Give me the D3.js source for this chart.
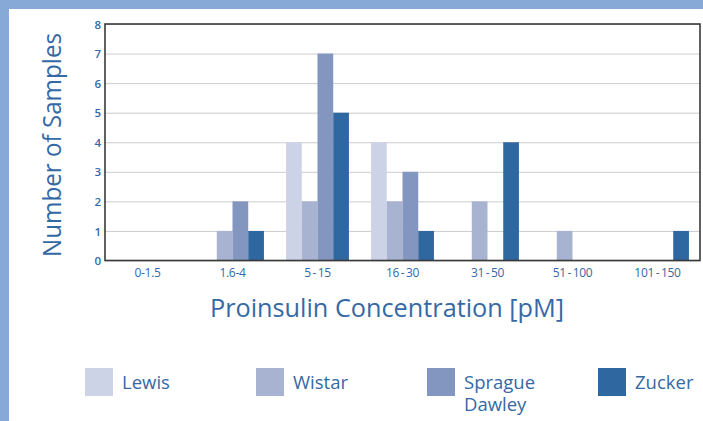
<!DOCTYPE html>
<html>
<head>
<meta charset="utf-8">
<script src="https://cdn.jsdelivr.net/npm/d3@7"></script>
<style>
  html, body { margin: 0; padding: 0; background: #fff; }
  svg { display: block; }
  text { font-family: "Open Sans", "Noto Sans", sans-serif; }
</style>
</head>
<body>
<svg id="chart" width="703" height="421"></svg>
<script>
const categories = ["0-1.5", "1.6-4", "5 - 15", "16 - 30", "31 - 50", "51 - 100", "101 - 150"];
const seriesNames = ["Lewis", "Wistar", "Sprague Dawley", "Zucker"];
const lewis   = [0, 0, 4, 4, 0, 0, 0];
const wistar  = [0, 1, 2, 2, 2, 1, 0];
const sprague = [0, 2, 7, 3, 0, 0, 0];
const zucker  = [0, 1, 5, 1, 4, 0, 1];
const yTicks = [0, 1, 2, 3, 4, 5, 6, 7, 8];
const colors = ["#cdd3e6", "#a8b3d2", "#8396bf", "#2f68a0"];
const seriesValues = [lewis, wistar, sprague, zucker];

const textColor = "#3569a5";
const svg = d3.select("#chart");
const W = 703, H = 421;

// frame band
svg.append("rect").attr("x", 0).attr("y", 0).attr("width", W).attr("height", 9).attr("fill", "#87a9d7");
svg.append("rect").attr("x", 0).attr("y", 0).attr("width", 9).attr("height", H).attr("fill", "#87a9d7");

const plot = { left: 105, right: 700, top: 24, bottom: 260.5 };

const x0 = d3.scaleBand().domain(categories).range([plot.left, plot.right]).paddingInner(0.26).paddingOuter(0.13);
const x1 = d3.scaleBand().domain(seriesNames).range([0, x0.bandwidth()]);
const y = d3.scaleLinear().domain([0, 8]).range([plot.bottom, plot.top]);

// gridlines
const grid = svg.append("g").attr("transform", `translate(${plot.left},0)`)
  .call(d3.axisLeft(y).tickValues(yTicks).tickSize(-(plot.right - plot.left)).tickFormat(""));
grid.select(".domain").remove();
grid.selectAll("line").attr("stroke", "#cccccc").attr("stroke-width", 1);

// bars
const rows = [];
categories.forEach((c, i) => {
  seriesNames.forEach((s, j) => {
    rows.push({ cat: c, series: s, value: seriesValues[j][i], color: colors[j] });
  });
});
svg.append("g").selectAll("rect").data(rows.filter(d => d.value > 0)).join("rect")
  .attr("x", d => x0(d.cat) + x1(d.series))
  .attr("y", d => y(d.value))
  .attr("width", x1.bandwidth())
  .attr("height", d => y(0) - y(d.value))
  .attr("fill", d => d.color);

// frame
svg.append("rect").attr("x", plot.left).attr("y", plot.top)
  .attr("width", plot.right - plot.left).attr("height", plot.bottom - plot.top)
  .attr("fill", "none").attr("stroke", "#3a3a3a").attr("stroke-width", 1.6);

// y axis labels
const ya = svg.append("g").attr("transform", `translate(${plot.left - 4},0)`)
  .call(d3.axisLeft(y).tickValues(yTicks).tickSize(0).tickPadding(0).tickFormat(d3.format("d")));
ya.select(".domain").remove();
ya.selectAll("text").attr("fill", textColor).style("font-size", "11.5px").style("font-weight", "600").attr("dy", "0.36em");

// x axis labels
const xa = svg.append("g").attr("transform", `translate(0,${plot.bottom})`)
  .call(d3.axisBottom(x0).tickSize(0).tickPadding(8)
    .tickFormat(d => d.replace(/ /g, "\u2009")));
xa.select(".domain").remove();
xa.selectAll("text").attr("fill", textColor).style("font-size", "12px")
  .style("letter-spacing", "-0.3px").attr("dy", "0.71em");

// axis titles
svg.append("text").attr("x", 387).attr("y", 317).attr("text-anchor", "middle")
  .attr("fill", textColor).style("font-size", "25px")
  .attr("textLength", 354).attr("lengthAdjust", "spacingAndGlyphs")
  .text("Proinsulin Concentration [pM]");
svg.append("text").attr("transform", "translate(61,145) rotate(-90)").attr("text-anchor", "middle")
  .attr("fill", textColor).style("font-size", "25px")
  .attr("textLength", 224).attr("lengthAdjust", "spacingAndGlyphs")
  .text("Number of Samples");

// legend
const legendX = d3.scalePoint().domain(seriesNames).range([85, 598]);
const lg = svg.append("g").selectAll("g").data(seriesNames).join("g")
  .attr("transform", d => `translate(${legendX(d)},368)`);
lg.append("rect").attr("width", 28).attr("height", 28).attr("fill", (d, i) => colors[i]);
lg.each(function(d) {
  const parts = d.split(" ");
  d3.select(this).selectAll("text").data(parts).join("text")
    .attr("x", 37).attr("y", (p, k) => 21 + k * 22)
    .attr("fill", textColor).style("font-size", "18.5px")
    .text(p => p);
});
</script>
</body>
</html>
